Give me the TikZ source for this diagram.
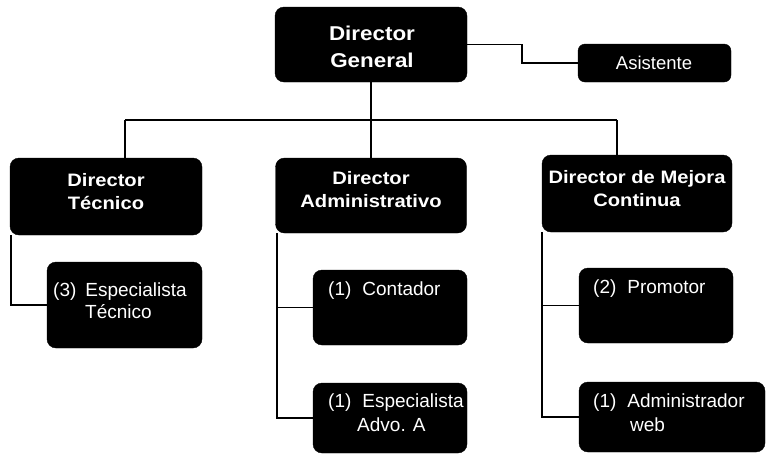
\documentclass[tikz,border=0pt]{standalone}
\usepackage{fontspec}
\setmainfont{Liberation Sans}
\newfontfamily\titlefont[FakeStretch=1.12]{Liberation Sans}
\begin{document}
\begin{tikzpicture}[x=1pt,y=-1pt,
  box/.style={draw=black, fill=black, rounded corners=9pt, inner sep=0pt},
  ttl/.style={text=white, font=\titlefont\bfseries\fontsize{18}{23}\selectfont, align=center, inner sep=0pt},
  ttlbig/.style={text=white, font=\titlefont\bfseries\fontsize{20}{27}\selectfont, align=center, inner sep=0pt},
  lbl/.style={text=white, font=\fontsize{19}{22}\selectfont, anchor=west, inner sep=0pt},
  conn/.style={draw=black, line width=1.1pt}]
\useasboundingbox (0,0) rectangle (767,456);
% boxes
\node[box, minimum width=192pt, minimum height=75pt] (dg) at (371,44.5) {};
\node[box, rounded corners=7pt, minimum width=153pt, minimum height=38pt] (as) at (654.5,63) {};
\node[box, minimum width=192pt, minimum height=77pt] (dt) at (106,196.5) {};
\node[box, minimum width=191pt, minimum height=75pt] (da) at (371,195.5) {};
\node[box, minimum width=190pt, minimum height=77pt] (dm) at (637,193.5) {};
\node[box, minimum width=155pt, minimum height=86pt] (et) at (124.5,305) {};
\node[box, minimum width=154pt, minimum height=75pt] (co) at (390,307.5) {};
\node[box, minimum width=154pt, minimum height=70pt] (ea) at (390,418) {};
\node[box, minimum width=154pt, minimum height=75pt] (pr) at (656,305.5) {};
\node[box, minimum width=186pt, minimum height=70pt] (aw) at (672,417) {};
% texts
\node[ttlbig] (dgT) at (372,46.5) {Director\\General};
\node[text=white, font=\fontsize{18.5}{22}\selectfont, inner sep=0pt] (asT) at (654,63) {Asistente};
\node[ttl] (dtT) at (106,191.5) {Director\\Técnico};
\node[ttl] (daT) at (371,190) {Director\\Administrativo};
\node[ttl] (dmT) at (637,188.5) {Director de Mejora\\Continua};
\node[lbl] (etT1) at (53,292) {(3)\hspace{9pt}Especialista};
\node[lbl] (etT2) at (85,312) {Técnico};
\node[lbl] (coT) at (328,291) {(1)\hspace{11pt}Contador};
\node[lbl] (eaT1) at (328,403) {(1)\hspace{11pt}Especialista};
\node[lbl] (eaT2) at (357,425) {Advo. A};
\node[lbl] (prT) at (593,289) {(2)\hspace{11pt}Promotor};
\node[lbl] (awT1) at (593,403) {(1)\hspace{11pt}Administrador};
\node[lbl] (awT2) at (630,425) {web};
% connectors
\coordinate (j1) at (522,44.5);
\draw[conn] (dg.east) -- (j1) |- (as.west);
\coordinate (bl) at (125,120);
\coordinate (br) at (617,120);
\draw[conn] (dg.south) -- (da.north);
\draw[conn] (bl) -- (br);
\draw[conn] (bl) -- (bl |- dt.north);
\draw[conn] (br) -- (br |- dm.north);
\coordinate (t1) at (11,235);
\draw[conn] (t1) |- (et.west);
\coordinate (a1) at (277,233);
\draw[conn] (a1) |- (co.west);
\draw[conn] (a1) |- (ea.west);
\coordinate (m1) at (542,232);
\draw[conn] (m1) |- (pr.west);
\draw[conn] (m1) |- (aw.west);
\end{tikzpicture}
\end{document}
